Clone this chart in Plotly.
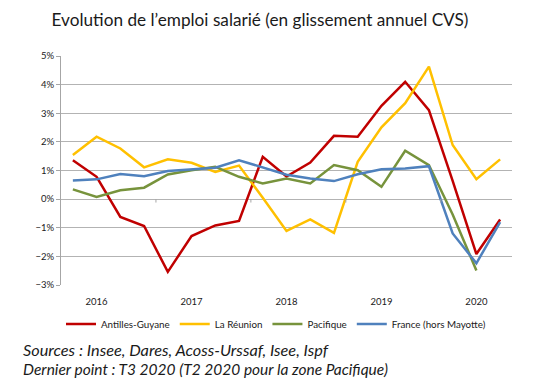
import plotly.graph_objects as go

quarters = list(range(19))  # T1 2016 .. T3 2020
year_labels = ["2016", "2017", "2018", "2019", "2020"]
year_label_pos = [1, 5, 9, 13, 17]
year_boundaries = [3.5, 7.5, 11.5, 15.5]

antilles_guyane = [1.36, 0.78, -0.62, -0.94, -2.54, -1.29, -0.92, -0.76, 1.48, 0.79,
                   1.28, 2.21, 2.18, 3.26, 4.10, 3.11, 0.64, -1.92, -0.71]
la_reunion = [1.54, 2.18, 1.77, 1.11, 1.39, 1.27, 0.95, 1.17, 0.05, -1.11,
              -0.71, -1.18, 1.30, 2.51, 3.35, 4.63, 1.89, 0.70, 1.39]
pacifique = [0.34, 0.08, 0.31, 0.40, 0.86, 1.01, 1.13, 0.78, 0.55, 0.72,
             0.55, 1.19, 1.01, 0.43, 1.69, 1.19, -0.54, -2.49, None]
france = [0.65, 0.69, 0.88, 0.80, 0.98, 1.04, 1.10, 1.36, 1.10, 0.85,
          0.72, 0.63, 0.87, 1.04, 1.07, 1.15, -1.20, -2.24, -0.80]

series = [
    ("Antilles-Guyane", antilles_guyane, "#C00000"),
    ("La Réunion", la_reunion, "#FFC000"),
    ("Pacifique", pacifique, "#77933C"),
    ("France (hors Mayotte)", france, "#4F81BD"),
]

FONT = "Lato, 'Open Sans', sans-serif"
L, R, T, B = 61, 21, 56, 103
PW, PH = 533 - L - R, 388 - T - B


def px_x(px):
    return (px - L) / PW


def px_y(py):
    return (388 - B - py) / PH


fig = go.Figure()
for name, vals, col in series:
    fig.add_trace(go.Scatter(x=quarters, y=[None if v is None else v / 100 for v in vals],
                             mode="lines", name=name,
                             line=dict(color=col, width=2.5), connectgaps=False))

for b in year_boundaries:
    fig.add_shape(type="line", xref="x", yref="y", x0=b, x1=b, y0=0, y1=-0.0012,
                  line=dict(color="#A6A6A6", width=1))

fig.update_layout(
    width=533, height=388,
    margin=dict(l=L, r=R, t=T, b=B, autoexpand=False),
    paper_bgcolor="white", plot_bgcolor="white",
    font=dict(family=FONT, color="#262626"),
    title=dict(text="Evolution de l’emploi salarié (en glissement annuel CVS)",
               x=260 / 533, xanchor="center", y=1 - 20 / 388, yanchor="middle",
               font=dict(size=17.2, color="#1a1a1a")),
    showlegend=True,
    legend=dict(orientation="h", xref="paper", yref="paper",
                x=px_x(276), xanchor="center", y=px_y(324), yanchor="middle",
                font=dict(size=9.8, color="#1a1a1a"), itemwidth=30,
                tracegroupgap=0),
    xaxis=dict(range=[-0.5, 18.5], tickmode="array", tickvals=year_label_pos,
               ticktext=year_labels, ticks="", showgrid=False, zeroline=False,
               showline=False, ticklabelstandoff=9, automargin=False,
               tickfont=dict(size=9.5, color="#1a1a1a")),
    yaxis=dict(range=[-0.03, 0.05], dtick=0.01, tick0=0, tickformat=".0%",
               showgrid=True, gridcolor="#B3B3B3", gridwidth=1, automargin=False,
               zeroline=False, showline=True, linecolor="#A6A6A6", linewidth=1,
               ticks="outside", ticklen=4, tickcolor="#A6A6A6",
               tickfont=dict(size=9.5, color="#1a1a1a")),
)

fig.add_annotation(text="<i>Sources : Insee, Dares, Acoss-Urssaf, Isee, Ispf</i>",
                   xref="paper", yref="paper", x=px_x(21), y=px_y(349),
                   xanchor="left", yanchor="middle", showarrow=False,
                   font=dict(size=16.3, color="#1a1a1a", family=FONT))
fig.add_annotation(text="<i>Dernier point : T3 2020 (T2 2020 pour la zone Pacifique)</i>",
                   xref="paper", yref="paper", x=px_x(21), y=px_y(369),
                   xanchor="left", yanchor="middle", showarrow=False,
                   font=dict(size=15.5, color="#1a1a1a", family=FONT))

fig.write_html("out.html", config={"displayModeBar": False},
               post_script="document.body.style.margin='0';")
